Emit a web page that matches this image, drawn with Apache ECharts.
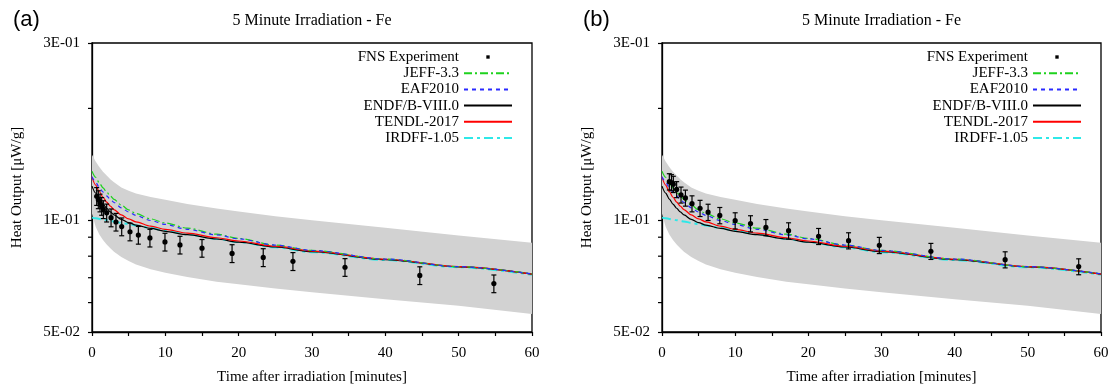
<!DOCTYPE html>
<html><head><meta charset="utf-8">
<script src="https://cdn.jsdelivr.net/npm/echarts@6/dist/echarts.min.js"></script>
<style>html,body{margin:0;padding:0;background:#fff}#c{width:1114px;height:390px}</style>
</head><body><div id="c"></div>
<script>
// ---------- data ----------
const panelTags = ['(a)', '(b)'];
const panelTitles = ['5 Minute Irradiation - Fe', '5 Minute Irradiation - Fe'];
const xName = 'Time after irradiation [minutes]';
const yName = 'Heat Output [\u03bcW/g]';
const legendNames = ['FNS Experiment', 'JEFF-3.3', 'EAF2010', 'ENDF/B-VIII.0', 'TENDL-2017', 'IRDFF-1.05'];

const curveTimes = [0, 0.5, 1, 1.5, 2, 2.5, 3, 4, 5, 6, 8, 10, 13, 17, 20, 25, 30, 40, 50, 60];
const jeff  = [0.1355, 0.1305, 0.1260, 0.1222, 0.1190, 0.1162, 0.1138, 0.1098, 0.1066, 0.1042, 0.1008, 0.0983, 0.0952, 0.0917, 0.0893, 0.0857, 0.0829, 0.0786, 0.0750, 0.0717];
const eaf   = [0.1310, 0.1265, 0.1225, 0.1191, 0.1163, 0.1138, 0.1116, 0.1080, 0.1052, 0.1030, 0.0998, 0.0974, 0.0945, 0.0913, 0.0891, 0.0857, 0.0829, 0.0786, 0.0750, 0.0717];
const endf  = [0.1235, 0.1183, 0.1140, 0.1105, 0.1077, 0.1053, 0.1033, 0.1005, 0.0985, 0.0970, 0.0950, 0.0933, 0.0914, 0.0890, 0.0873, 0.0847, 0.0823, 0.0783, 0.0749, 0.0716];
const tendl = [0.1308, 0.1243, 0.1193, 0.1153, 0.1119, 0.1091, 0.1068, 0.1033, 0.1008, 0.0990, 0.0964, 0.0945, 0.0923, 0.0897, 0.0879, 0.0851, 0.0826, 0.0785, 0.0750, 0.0716];
const irdff = [0.1016, 0.1012, 0.1008, 0.1004, 0.1000, 0.0996, 0.0992, 0.0984, 0.0976, 0.0968, 0.0953, 0.0938, 0.0916, 0.0891, 0.0873, 0.0845, 0.0820, 0.0781, 0.0747, 0.0713];
const bandUpper = [0.150, 0.144, 0.139, 0.135, 0.132, 0.129, 0.1265, 0.1225, 0.120, 0.118, 0.1155, 0.1135, 0.1105, 0.1075, 0.1055, 0.1025, 0.1000, 0.0955, 0.0910, 0.0870];
const bandLower = [0.104, 0.096, 0.0915, 0.0885, 0.0860, 0.0840, 0.0822, 0.0796, 0.0776, 0.0760, 0.0738, 0.0722, 0.0703, 0.0683, 0.0672, 0.0655, 0.0640, 0.0613, 0.0588, 0.0559];

const expTimesA = [0.64, 0.86, 1.09, 1.32, 1.55, 2.0, 2.6, 3.27, 4.05, 5.18, 6.32, 7.9, 9.95, 12.0, 15.0, 19.1, 23.35, 27.4, 34.5, 44.7, 54.8];
const expValsA  = [0.1160, 0.1137, 0.1114, 0.1091, 0.1069, 0.1047, 0.1016, 0.0989, 0.0961, 0.0931, 0.0912, 0.0896, 0.0874, 0.0858, 0.0841, 0.0814, 0.0794, 0.0775, 0.0747, 0.0710, 0.0675];
const expErrA   = [0.0064, 0.0063, 0.0061, 0.0060, 0.0059, 0.0058, 0.0056, 0.0054, 0.0053, 0.0051, 0.0050, 0.0049, 0.0048, 0.0047, 0.0046, 0.0045, 0.0044, 0.0043, 0.0041, 0.0039, 0.0037];

const expTimesB = [1.0, 1.3, 1.55, 2.0, 2.6, 3.2, 4.1, 5.2, 6.3, 7.9, 10.0, 12.1, 14.2, 17.3, 21.4, 25.5, 29.7, 36.75, 46.9, 56.95];
const expValsB  = [0.1270, 0.1263, 0.1250, 0.1210, 0.1170, 0.1148, 0.1108, 0.1077, 0.1051, 0.1030, 0.0997, 0.0979, 0.0956, 0.0937, 0.0905, 0.0881, 0.0856, 0.0825, 0.0783, 0.0750];
const expErrB   = [0.0064, 0.0063, 0.0063, 0.0060, 0.0058, 0.0057, 0.0055, 0.0054, 0.0053, 0.0052, 0.0050, 0.0049, 0.0048, 0.0047, 0.0045, 0.0044, 0.0043, 0.0041, 0.0039, 0.0037];

const yMinorTicks = [0.06, 0.07, 0.08, 0.09, 0.2];

// ---------- styles ----------
const SERIF = 'Liberation Serif, Times New Roman, serif';
const curveDefs = [
  { name: 'IRDFF-1.05',    data: irdff, color: '#2ee8e8', width: 2,   type: [9, 4, 3, 4] },
  { name: 'ENDF/B-VIII.0', data: endf,  color: '#000000', width: 1.2, type: 'solid' },
  { name: 'TENDL-2017',    data: tendl, color: '#ff0000', width: 1.2, type: 'solid' },
  { name: 'JEFF-3.3',      data: jeff,  color: '#1ed21e', width: 1.2, type: [8, 3, 2, 3] },
  { name: 'EAF2010',       data: eaf,   color: '#2a2aff', width: 1.2, type: [4, 4] }
];
const panels = [
  { left: 92,  width: 440, legendRight: 601, times: expTimesA, vals: expValsA, errs: expErrA },
  { left: 662, width: 439, legendRight: 32,  times: expTimesB, vals: expValsB, errs: expErrB }
];

function fmtE(v) {
  const s = Number(v).toExponential(0).split('e');
  const n = parseInt(s[1], 10);
  return s[0] + 'E' + (n < 0 ? '-' : '+') + String(Math.abs(n)).padStart(2, '0');
}

function renderBand(params, api) {
  const pts = [];
  for (let i = 0; i < curveTimes.length; i++) pts.push(api.coord([curveTimes[i], bandUpper[i]]));
  for (let i = curveTimes.length - 1; i >= 0; i--) pts.push(api.coord([curveTimes[i], bandLower[i]]));
  return { type: 'polygon', shape: { points: pts }, style: { fill: '#d2d2d2' } };
}
function renderErr(params, api) {
  const t = api.value(0), v = api.value(1), e = api.value(2);
  const c = api.coord([t, v]), hi = api.coord([t, v + e]), lo = api.coord([t, v - e]);
  const w = 2.5, st = { stroke: '#000', lineWidth: 1.2 };
  return { type: 'group', children: [
    { type: 'line', shape: { x1: c[0], y1: hi[1], x2: c[0], y2: lo[1] }, style: st },
    { type: 'line', shape: { x1: c[0] - w, y1: hi[1], x2: c[0] + w, y2: hi[1] }, style: st },
    { type: 'line', shape: { x1: c[0] - w, y1: lo[1], x2: c[0] + w, y2: lo[1] }, style: st },
    { type: 'circle', shape: { cx: c[0], cy: c[1], r: 2.6 }, style: { fill: '#000' } }
  ] };
}
function renderMinorY(params, api) {
  const p = api.coord([api.value(0), api.value(1)]);
  return { type: 'line', shape: { x1: p[0] - 4, y1: p[1], x2: p[0], y2: p[1] }, style: { stroke: '#000', lineWidth: 1.2 } };
}

const grid = [], xAxis = [], yAxis = [], series = [], legend = [], graphic = [];
panels.forEach((P, p) => {
  grid.push({ left: P.left, top: 43, width: P.width, height: 290, show: true, borderColor: '#000', borderWidth: 1.3, backgroundColor: 'transparent' });
  xAxis.push({
    type: 'value', gridIndex: p, min: 0, max: 60, interval: 10,
    axisLine: { show: true, lineStyle: { color: '#000', width: 1.3 } },
    axisTick: { show: true, length: 4, lineStyle: { color: '#000', width: 1.2 } },
    minorTick: { show: true, splitNumber: 2, length: 4, lineStyle: { color: '#000', width: 1.2 } },
    splitLine: { show: false },
    axisLabel: { fontFamily: SERIF, fontSize: 15, color: '#000', margin: 14 },
    name: xName, nameLocation: 'middle', nameGap: 38,
    nameTextStyle: { fontFamily: SERIF, fontSize: 15, color: '#000' }
  });
  yAxis.push({
    type: 'log', logBase: 10, gridIndex: p, min: 0.05, max: 0.3,
    axisLine: { show: true, lineStyle: { color: '#000', width: 1.3 } },
    axisTick: { show: true, length: 4, lineStyle: { color: '#000', width: 1.2 } },
    splitLine: { show: false },
    axisLabel: { fontFamily: SERIF, fontSize: 15, color: '#000', margin: 12, formatter: fmtE, showMinLabel: true, showMaxLabel: true },
    name: yName, nameLocation: 'middle', nameGap: 67,
    nameTextStyle: { fontFamily: SERIF, fontSize: 15, color: '#000' }
  });
  series.push({
    type: 'custom', xAxisIndex: p, yAxisIndex: p, silent: true, z: 1,
    renderItem: renderBand, data: [[0, 0.1]], encode: { x: 0, y: 1 }
  });
  curveDefs.forEach(d => {
    series.push({
      type: 'line', name: d.name, xAxisIndex: p, yAxisIndex: p, z: 2,
      data: curveTimes.map((t, i) => [t, d.data[i]]),
      symbol: 'none', smooth: 0.3, smoothMonotone: 'x', silent: true,
      itemStyle: { color: d.color },
      lineStyle: { color: d.color, width: d.width, type: d.type }
    });
  });
  series.push({
    type: 'custom', name: 'FNS Experiment', xAxisIndex: p, yAxisIndex: p, z: 3,
    itemStyle: { color: '#000' },
    renderItem: renderErr, encode: { x: 0, y: 1 },
    data: P.times.map((t, i) => [t, P.vals[i], P.errs[i]])
  });
  series.push({
    type: 'custom', xAxisIndex: p, yAxisIndex: p, silent: true, clip: false, z: 4,
    renderItem: renderMinorY, encode: { x: 0, y: 1 },
    data: yMinorTicks.map(v => [0, v])
  });
  legend.push({
    orient: 'vertical', right: P.legendRight, top: 49.5, align: 'right', padding: 0,
    itemWidth: 48, itemHeight: 14, itemGap: 1.2, selectedMode: false,
    textStyle: { fontFamily: SERIF, fontSize: 15, color: '#000', lineHeight: 15 },
    data: legendNames.map(n => n === 'FNS Experiment'
      ? { name: n, icon: 'path://M0,0M10,10M3.8,3.8L6.2,3.8L6.2,6.2L3.8,6.2Z', itemStyle: { color: '#000', opacity: 1 } }
      : { name: n, itemStyle: { color: 'rgba(0,0,0,0)', borderWidth: 0, opacity: 0 } })
  });
  const cx = P.left + P.width / 2;
  graphic.push({ type: 'text', x: cx, y: 21, style: { text: panelTitles[p], font: '16px ' + SERIF, fill: '#000', textAlign: 'center', textVerticalAlign: 'middle' } });
  graphic.push({ type: 'text', x: p === 0 ? 13 : 583, y: 20, style: { text: panelTags[p], font: '22px Liberation Sans, Arial, sans-serif', fill: '#000', textAlign: 'left', textVerticalAlign: 'middle' } });
});

const chart = echarts.init(document.getElementById('c'), null, { renderer: 'canvas' });
chart.setOption({ animation: false, backgroundColor: '#fff', grid, xAxis, yAxis, series, legend, graphic });
</script></body></html>
